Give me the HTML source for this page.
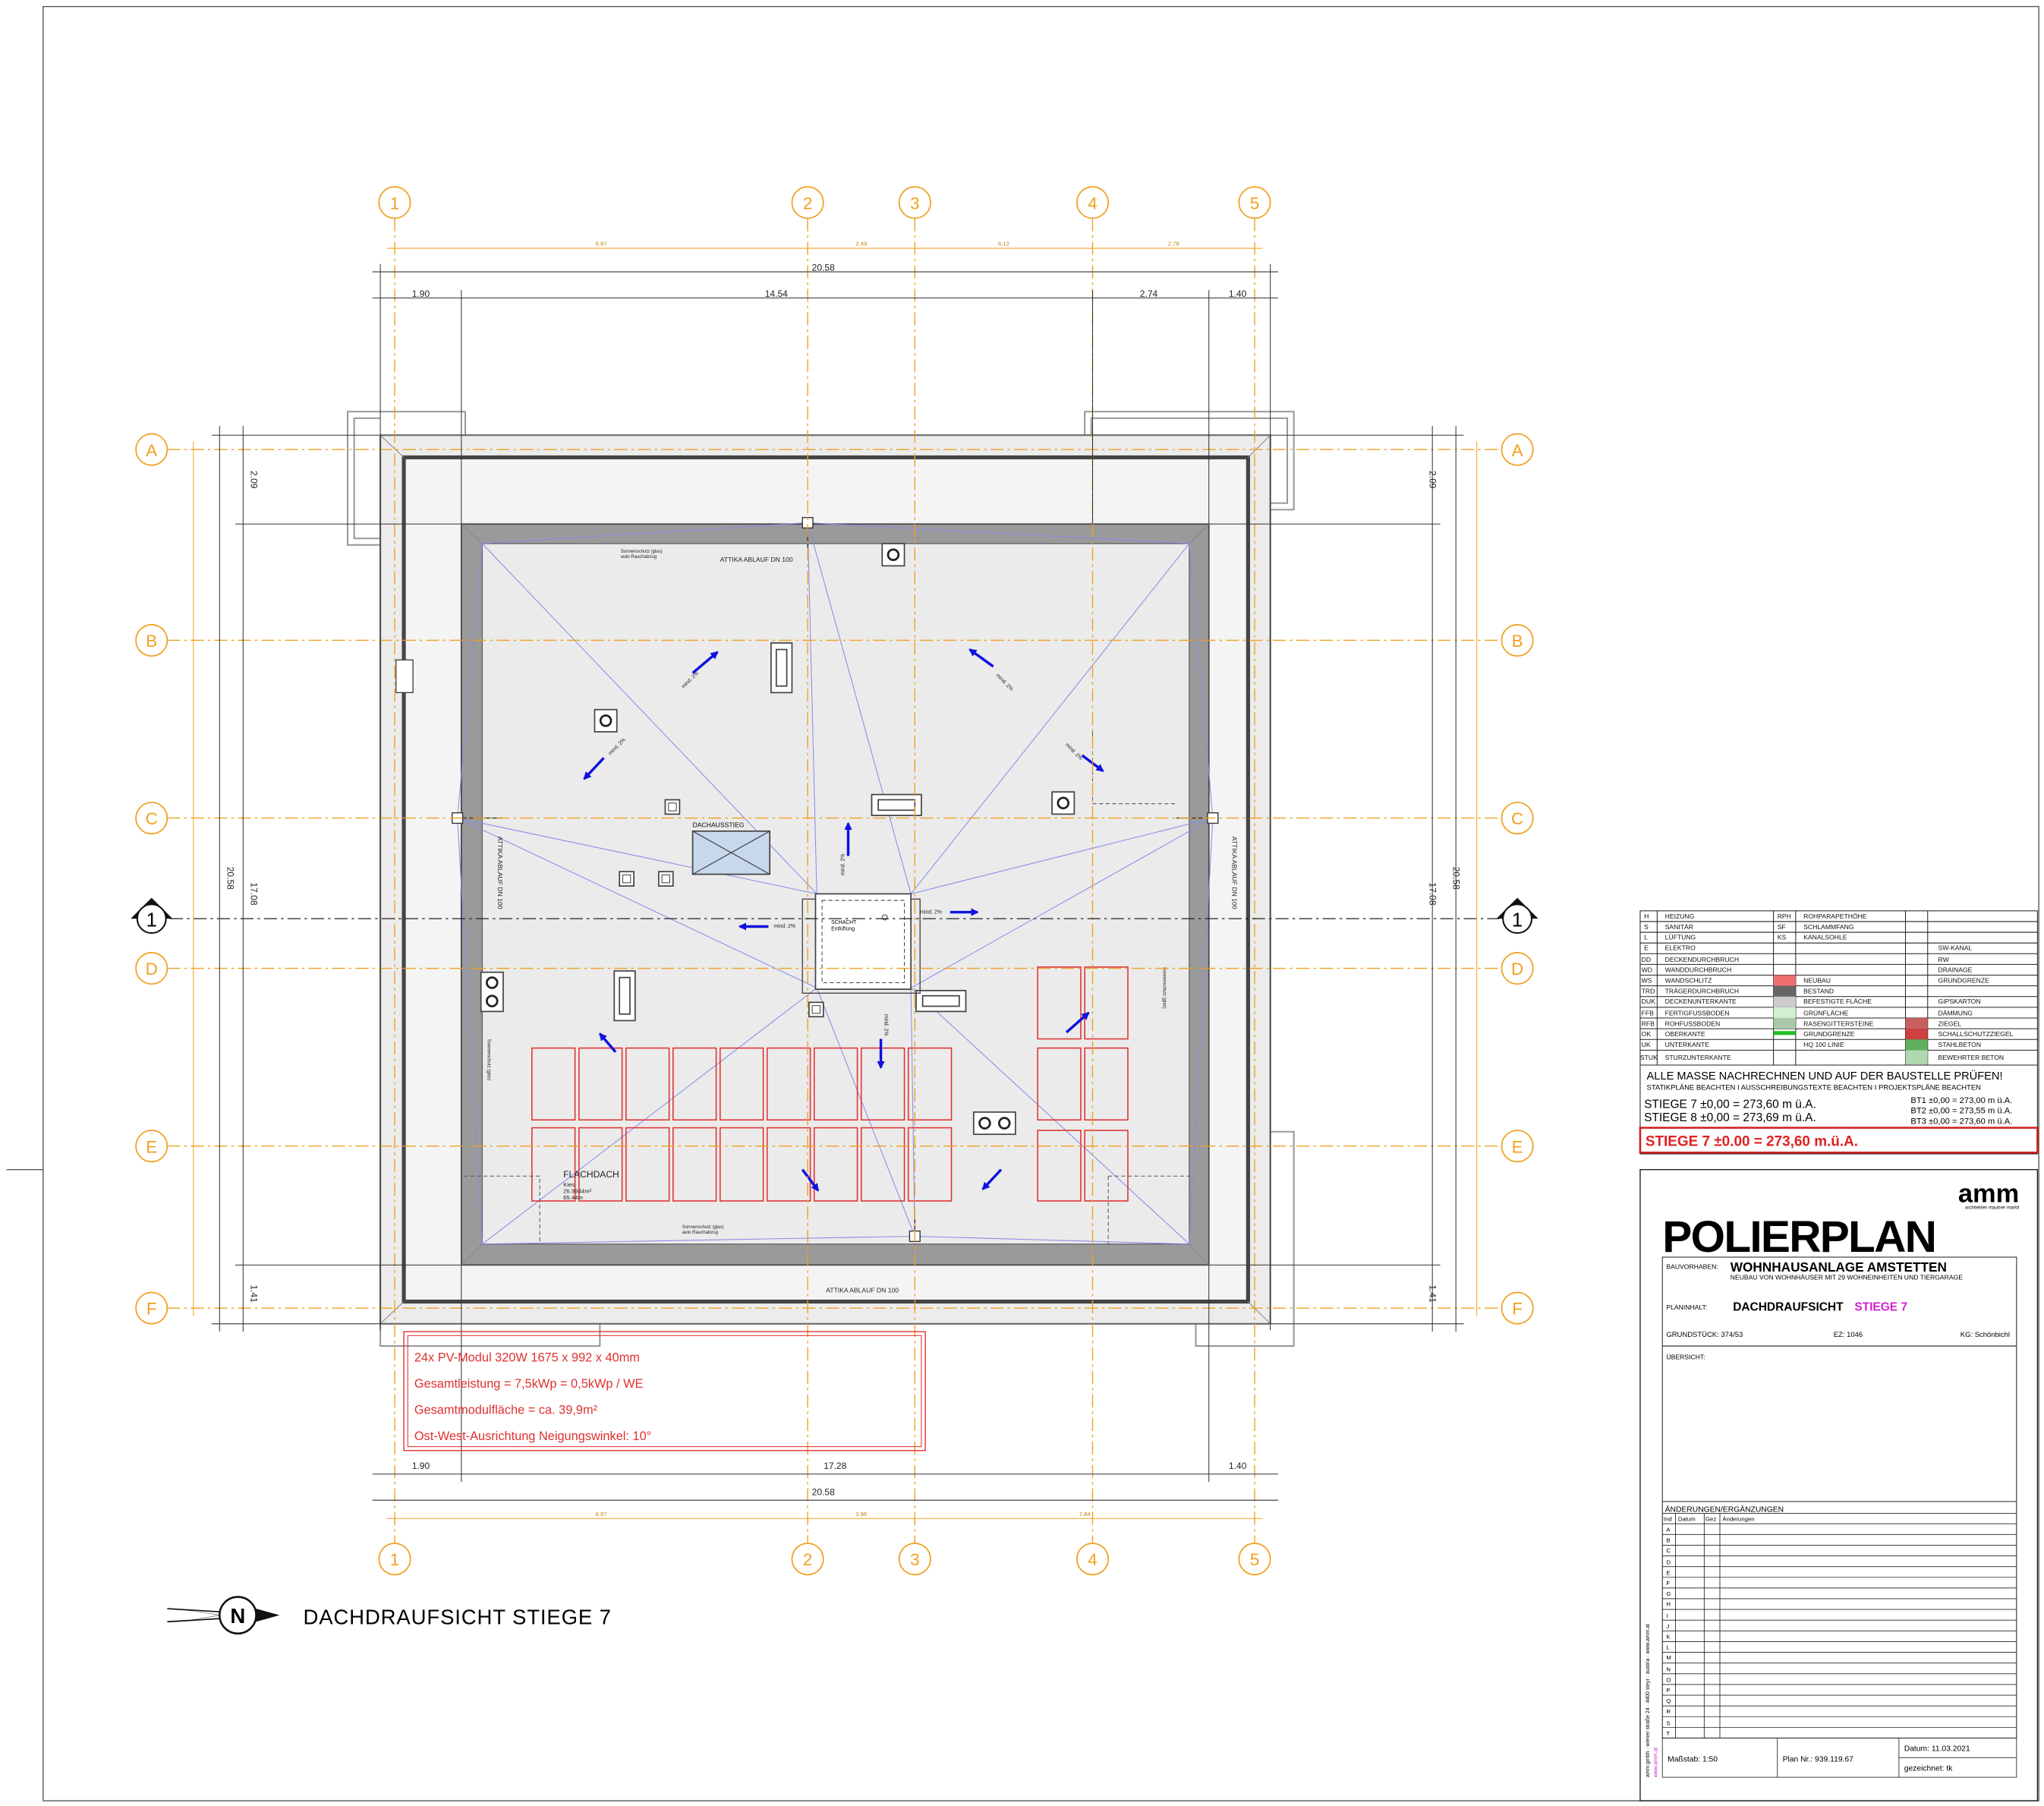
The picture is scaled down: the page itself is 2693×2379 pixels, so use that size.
<!DOCTYPE html>
<html><head><meta charset="utf-8">
<style>
html,body{margin:0;padding:0;background:#fff;}
svg{display:block;}
text{font-family:"Liberation Sans",sans-serif;}
</style></head>
<body>
<svg width="2693" height="2379" viewBox="0 0 1564 1382" preserveAspectRatio="none" xmlns="http://www.w3.org/2000/svg">
<defs>
<marker id="ah" markerWidth="6" markerHeight="6" refX="5" refY="3" orient="auto" markerUnits="userSpaceOnUse"><path d="M0,0 L6,3 L0,6 z" fill="#1010e0"/></marker>
</defs>
<rect width="1564" height="1382" fill="#fff"/>
<!-- outer border -->
<rect x="33" y="5" width="1527" height="1373" fill="none" stroke="#555" stroke-width="0.8"/>
<line x1="5" y1="895" x2="33" y2="895" stroke="#555" stroke-width="0.8"/>

<!-- protrusions -->
<g fill="none" stroke="#999" stroke-width="1.2">
<path d="M291,315 H266 V417 H291"/><path d="M291,320 H271 V412 H291"/>
<path d="M291,315 H356 V333"/>
<path d="M830,333 V315 H990 V390 H972"/><path d="M835,333 V320 H985 V385 H972"/>
<path d="M291,1013 V1030 H459 V1013"/>
<path d="M915,1013 V1030 H990 V866 H972"/>
</g>

<!-- building -->
<rect x="291" y="333" width="681" height="680" fill="#ececec" stroke="#666" stroke-width="1.2"/>
<rect x="309" y="350" width="646" height="646" fill="#f4f4f4" stroke="#444" stroke-width="3"/>
<rect x="353" y="401" width="572" height="567" fill="#9a9a9a" stroke="#444" stroke-width="1"/>
<rect x="369" y="416" width="541" height="536" fill="#ebebeb" stroke="#666" stroke-width="0.8"/>
<g stroke="#888" stroke-width="0.6"><line x1="291" y1="333" x2="309" y2="350"/><line x1="972" y1="333" x2="955" y2="350"/><line x1="291" y1="1013" x2="309" y2="996"/><line x1="972" y1="1013" x2="955" y2="996"/>
<line x1="353" y1="401" x2="369" y2="416"/><line x1="925" y1="401" x2="910" y2="416"/><line x1="353" y1="968" x2="369" y2="952"/><line x1="925" y1="968" x2="910" y2="952"/></g>
<rect x="303" y="505" width="13" height="25" fill="#fff" stroke="#444" stroke-width="0.8"/>

<!-- slope lines -->
<g stroke="#8a8ae8" stroke-width="0.6" fill="none">
<path d="M618,400 L369,416 M618,400 L910,416 M618,400 L625,684 M618,400 L697,684"/>
<path d="M350,626 L369,416 M350,626 L369,952 M350,626 L625,684 M350,626 L625,756"/>
<path d="M928,626 L910,416 M928,626 L910,952 M928,626 L697,684 M928,626 L697,756"/>
<path d="M700,946 L369,952 M700,946 L910,952 M700,946 L625,756 M700,946 L697,756"/>
<path d="M369,416 L625,684 M910,416 L697,684 M369,952 L625,756 M910,952 L697,756"/>
</g>

<!-- PV modules -->
<g fill="none" stroke="#e03030" stroke-width="0.9">
<rect x="407" y="802" width="33" height="55"/><rect x="443" y="802" width="33" height="55"/><rect x="479" y="802" width="33" height="55"/><rect x="515" y="802" width="33" height="55"/><rect x="551" y="802" width="33" height="55"/><rect x="587" y="802" width="33" height="55"/><rect x="623" y="802" width="33" height="55"/><rect x="659" y="802" width="33" height="55"/><rect x="695" y="802" width="33" height="55"/>
<rect x="407" y="863" width="33" height="56"/><rect x="443" y="863" width="33" height="56"/><rect x="479" y="863" width="33" height="56"/><rect x="515" y="863" width="33" height="56"/><rect x="551" y="863" width="33" height="56"/><rect x="587" y="863" width="33" height="56"/><rect x="623" y="863" width="33" height="56"/><rect x="659" y="863" width="33" height="56"/><rect x="695" y="863" width="33" height="56"/>
<rect x="794" y="740" width="33" height="55"/><rect x="830" y="740" width="33" height="55"/>
<rect x="794" y="802" width="33" height="55"/><rect x="830" y="802" width="33" height="55"/>
<rect x="794" y="865" width="33" height="54"/><rect x="830" y="865" width="33" height="54"/>
</g>

<!-- skylights & objects -->
<g fill="#fff" stroke="#444" stroke-width="1">
<rect x="590" y="492" width="16" height="38"/><rect x="594" y="497" width="8" height="28" fill="none"/>
<rect x="667" y="608" width="38" height="16"/><rect x="672" y="612" width="28" height="8" fill="none"/>
<rect x="470" y="743" width="16" height="38"/><rect x="474" y="748" width="8" height="28" fill="none"/>
<rect x="701" y="758" width="38" height="16"/><rect x="706" y="762" width="28" height="8" fill="none"/>
<rect x="675" y="416" width="17" height="17"/><rect x="455" y="543" width="17" height="17"/><rect x="805" y="606" width="17" height="17"/>
<rect x="368" y="744" width="17" height="30"/><rect x="745" y="851" width="32" height="17"/>
<rect x="509" y="612" width="11" height="11"/><rect x="474" y="667" width="11" height="11"/><rect x="504" y="667" width="11" height="11"/><rect x="619" y="767" width="11" height="11"/>
</g>
<g fill="none" stroke="#222" stroke-width="1.6">
<circle cx="683.5" cy="424.5" r="4"/><circle cx="463.5" cy="551.5" r="4"/><circle cx="813.5" cy="614.5" r="4"/><circle cx="376.5" cy="752" r="4"/><circle cx="376.5" cy="766" r="4"/><circle cx="753.5" cy="859.5" r="4"/><circle cx="768.5" cy="859.5" r="4"/>
</g>
<g fill="none" stroke="#444" stroke-width="0.6"><rect x="511.5" y="614.5" width="6" height="6"/><rect x="476.5" y="669.5" width="6" height="6"/><rect x="506.5" y="669.5" width="6" height="6"/><rect x="621.5" y="769.5" width="6" height="6"/></g>
<!-- Dachausstieg -->
<rect x="530" y="636" width="59" height="33" fill="#c8d8ec" stroke="#444" stroke-width="1"/>
<path d="M530,636 L589,669 M589,636 L530,669" stroke="#444" stroke-width="0.7"/>
<text x="530" y="633" font-size="5">DACHAUSSTIEG</text>
<!-- center shaft -->
<rect x="614" y="688" width="90" height="72" fill="none" stroke="#444" stroke-width="0.8"/>
<rect x="624" y="684" width="73" height="73" fill="#fff" stroke="#444" stroke-width="1"/>
<rect x="629" y="689" width="63" height="63" fill="none" stroke="#444" stroke-width="0.6" stroke-dasharray="3,2"/>
<circle cx="677" cy="702" r="2" fill="none" stroke="#444" stroke-width="0.6"/>
<text x="636" y="707" font-size="4">SCHACHT</text><text x="636" y="712" font-size="4">Entlüftung</text>
<!-- dashed lines -->
<g stroke="#555" stroke-width="0.6" stroke-dasharray="3,2" fill="none">
<path d="M836,560 V615 H900"/><path d="M355,900 H413 V952"/><path d="M848,900 H910 M848,900 V952"/>
</g>

<!-- drains -->
<g fill="#fff" stroke="#333" stroke-width="0.8">
<rect x="614" y="396" width="8" height="8"/><rect x="346" y="622" width="8" height="8"/><rect x="924" y="622" width="8" height="8"/><rect x="696" y="942" width="8" height="8"/>
<line x1="618" y1="404" x2="618" y2="420"/><line x1="354" y1="626" x2="385" y2="626"/><line x1="924" y1="626" x2="900" y2="626"/><line x1="700" y1="942" x2="700" y2="925"/>
</g>
<g font-size="5" fill="#222">
<text x="551" y="430">ATTIKA ABLAUF DN 100</text>
<text x="632" y="989">ATTIKA ABLAUF DN 100</text>
<text transform="translate(381,640) rotate(90)">ATTIKA ABLAUF DN 100</text>
<text transform="translate(943,640) rotate(90)">ATTIKA ABLAUF DN 100</text>
<text x="431" y="901" font-size="7">FLACHDACH</text>
<text x="431" y="908" font-size="4.5">Kies</text><text x="431" y="913" font-size="4.5">26.9944m²</text><text x="431" y="918" font-size="4.5">65.44m</text>
<text x="475" y="423" font-size="3.5">Sonnenschutz (glas)</text><text x="475" y="427" font-size="3.5">auto Rauchabzug</text>
<text x="522" y="940" font-size="3.5">Sonnenschutz (glas)</text><text x="522" y="944" font-size="3.5">auto Rauchabzug</text>
<text transform="translate(890,740) rotate(90)" font-size="3.5">Sonnenschutz (glas)</text>
<text transform="translate(373,795) rotate(90)" font-size="3.5">Sonnenschutz (glas)</text>
</g>

<!-- arrows -->
<g stroke="#1010e0" stroke-width="2" marker-end="url(#ah)">
<line x1="530" y1="515" x2="549" y2="499"/><line x1="462" y1="580" x2="447" y2="596"/>
<line x1="760" y1="510" x2="742" y2="497"/><line x1="828" y1="578" x2="844" y2="590"/>
<line x1="649" y1="655" x2="649" y2="630"/><line x1="588" y1="709" x2="566" y2="709"/>
<line x1="727" y1="698" x2="748" y2="698"/><line x1="674" y1="795" x2="674" y2="817"/>
<line x1="471" y1="805" x2="459" y2="791"/><line x1="816" y1="790" x2="833" y2="775"/>
<line x1="614" y1="895" x2="626" y2="911"/><line x1="766" y1="895" x2="752" y2="910"/>
</g>
<g font-size="4" fill="#222"><text x="592" y="710">mind. 2%</text><text x="704" y="699">mind. 2%</text>
<text transform="translate(523,527) rotate(-45)">mind. 2%</text><text transform="translate(467,578) rotate(-45)">mind. 2%</text>
<text transform="translate(762,517) rotate(45)">mind. 2%</text><text transform="translate(815,570) rotate(45)">mind. 2%</text>
<text transform="translate(646,670) rotate(-90)">mind. 2%</text><text transform="translate(677,776) rotate(90)">mind. 2%</text></g>

<!-- grid axes -->
<g stroke="#f0a020" stroke-width="0.8" stroke-dasharray="10,3,2,3">
<line x1="302" y1="167" x2="302" y2="1181"/><line x1="618" y1="167" x2="618" y2="1181"/><line x1="700" y1="167" x2="700" y2="1181"/><line x1="836" y1="167" x2="836" y2="1181"/><line x1="960" y1="167" x2="960" y2="1181"/>
<line x1="128" y1="344" x2="1149" y2="344"/><line x1="128" y1="490" x2="1149" y2="490"/><line x1="128" y1="626" x2="1149" y2="626"/><line x1="128" y1="741" x2="1149" y2="741"/><line x1="128" y1="877" x2="1149" y2="877"/><line x1="128" y1="1001" x2="1149" y2="1001"/>
</g>
<line x1="130" y1="703" x2="1147" y2="703" stroke="#222" stroke-width="0.7" stroke-dasharray="10,3,2,3"/>
<g fill="#fff" stroke="#f0a020" stroke-width="1">
<circle cx="302" cy="155" r="12"/><circle cx="618" cy="155" r="12"/><circle cx="700" cy="155" r="12"/><circle cx="836" cy="155" r="12"/><circle cx="960" cy="155" r="12"/>
<circle cx="302" cy="1193" r="12"/><circle cx="618" cy="1193" r="12"/><circle cx="700" cy="1193" r="12"/><circle cx="836" cy="1193" r="12"/><circle cx="960" cy="1193" r="12"/>
<circle cx="116" cy="344" r="12"/><circle cx="116" cy="490" r="12"/><circle cx="116" cy="626" r="12"/><circle cx="116" cy="741" r="12"/><circle cx="116" cy="877" r="12"/><circle cx="116" cy="1001" r="12"/>
<circle cx="1161" cy="344" r="12"/><circle cx="1161" cy="490" r="12"/><circle cx="1161" cy="626" r="12"/><circle cx="1161" cy="741" r="12"/><circle cx="1161" cy="877" r="12"/><circle cx="1161" cy="1001" r="12"/>
</g>
<g font-size="13" fill="#f0a020" text-anchor="middle">
<text x="302" y="160">1</text><text x="618" y="160">2</text><text x="700" y="160">3</text><text x="836" y="160">4</text><text x="960" y="160">5</text>
<text x="302" y="1198">1</text><text x="618" y="1198">2</text><text x="700" y="1198">3</text><text x="836" y="1198">4</text><text x="960" y="1198">5</text>
<text x="116" y="349">A</text><text x="116" y="495">B</text><text x="116" y="631">C</text><text x="116" y="746">D</text><text x="116" y="882">E</text><text x="116" y="1006">F</text>
<text x="1161" y="349">A</text><text x="1161" y="495">B</text><text x="1161" y="631">C</text><text x="1161" y="746">D</text><text x="1161" y="882">E</text><text x="1161" y="1006">F</text>
</g>
<!-- section markers -->
<g><path d="M100,703 L116,687 L132,703 Z" fill="#111"/><circle cx="116" cy="703" r="11" fill="#fff" stroke="#111" stroke-width="1.2"/><text x="116" y="709" font-size="15" text-anchor="middle">1</text>
<path d="M1145,703 L1161,687 L1177,703 Z" fill="#111"/><circle cx="1161" cy="703" r="11" fill="#fff" stroke="#111" stroke-width="1.2"/><text x="1161" y="709" font-size="15" text-anchor="middle">1</text></g>

<!-- dimension lines -->
<g stroke="#f0a020" stroke-width="0.6"><line x1="296" y1="190" x2="966" y2="190"/><line x1="296" y1="1162" x2="966" y2="1162"/><line x1="148" y1="338" x2="148" y2="1007"/><line x1="1130" y1="338" x2="1130" y2="1007"/></g>
<g stroke="#333" stroke-width="0.6">
<line x1="285" y1="208" x2="978" y2="208"/><line x1="285" y1="228" x2="978" y2="228"/>
<line x1="285" y1="1128" x2="978" y2="1128"/><line x1="285" y1="1148" x2="978" y2="1148"/>
<line x1="168" y1="326" x2="168" y2="1019"/><line x1="186" y1="326" x2="186" y2="1019"/>
<line x1="1096" y1="326" x2="1096" y2="1019"/><line x1="1114" y1="326" x2="1114" y2="1019"/>
<line x1="291" y1="202" x2="291" y2="1018"/><line x1="972" y1="202" x2="972" y2="1018"/>
<line x1="353" y1="222" x2="353" y2="401"/><line x1="925" y1="222" x2="925" y2="401"/><line x1="836" y1="222" x2="836" y2="401"/>
<line x1="353" y1="968" x2="353" y2="1134"/><line x1="925" y1="968" x2="925" y2="1134"/>
<line x1="162" y1="333" x2="291" y2="333"/><line x1="162" y1="1013" x2="291" y2="1013"/><line x1="180" y1="401" x2="353" y2="401"/><line x1="180" y1="968" x2="353" y2="968"/>
<line x1="972" y1="333" x2="1120" y2="333"/><line x1="972" y1="1013" x2="1120" y2="1013"/><line x1="925" y1="401" x2="1102" y2="401"/><line x1="925" y1="968" x2="1102" y2="968"/>
</g>
<g font-size="7" fill="#222" text-anchor="middle">
<text x="630" y="207">20.58</text><text x="322" y="227">1.90</text><text x="594" y="227">14.54</text><text x="879" y="227">2.74</text><text x="947" y="227">1.40</text>
<text x="322" y="1124">1.90</text><text x="639" y="1124">17.28</text><text x="947" y="1124">1.40</text><text x="630" y="1144">20.58</text>
<text transform="translate(174,672) rotate(90)">20.58</text><text transform="translate(192,684) rotate(90)">17.08</text>
<text transform="translate(1112,672) rotate(90)">20.58</text><text transform="translate(1094,684) rotate(90)">17.08</text>
<text transform="translate(192,367) rotate(90)">2.09</text><text transform="translate(1094,367) rotate(90)">2.09</text>
<text transform="translate(192,990) rotate(90)">1.41</text><text transform="translate(1094,990) rotate(90)">1.41</text>
</g>
<g font-size="4.5" fill="#c08010" text-anchor="middle"><text x="460" y="188">6.97</text><text x="659" y="188">2.49</text><text x="768" y="188">6.12</text><text x="898" y="188">2.78</text>
<text x="460" y="1160">6.97</text><text x="659" y="1160">3.96</text><text x="830" y="1160">7.84</text></g>

<!-- PV text box -->
<rect x="309" y="1019" width="399" height="91" fill="none" stroke="#e03030" stroke-width="0.8"/>
<rect x="312" y="1022" width="393" height="85" fill="none" stroke="#e03030" stroke-width="0.6"/>
<g font-size="9.5" fill="#e03030">
<text x="317" y="1042">24x PV-Modul 320W 1675 x 992 x 40mm</text>
<text x="317" y="1062">Gesamtleistung = 7,5kWp = 0,5kWp / WE</text>
<text x="317" y="1082">Gesamtmodulfläche = ca. 39,9m²</text>
<text x="317" y="1102">Ost-West-Ausrichtung Neigungswinkel: 10°</text>
</g>

<!-- north arrow & title -->
<path d="M128,1230 L170,1236 L130,1242 L168,1236 Z" fill="#111"/>
<path d="M128,1231 L212,1236 L128,1241" fill="none" stroke="#111" stroke-width="1"/>
<circle cx="182" cy="1236" r="14" fill="#fff" stroke="#111" stroke-width="1.5"/>
<text x="182" y="1242" font-size="16" font-weight="bold" text-anchor="middle">N</text>
<path d="M196,1231 L214,1236 L196,1241 Z" fill="#111"/>
<text x="232" y="1243" font-size="16" letter-spacing="0.5">DACHDRAUFSICHT STIEGE 7</text>

<!-- legend -->
<g stroke="#222" stroke-width="0.6" fill="none">
<rect x="1255" y="697" width="304" height="186"/>
<line x1="1255" y1="705.2" x2="1559" y2="705.2"/><line x1="1255" y1="713.4" x2="1559" y2="713.4"/><line x1="1255" y1="721.6" x2="1559" y2="721.6"/><line x1="1255" y1="729.8" x2="1559" y2="729.8"/><line x1="1255" y1="738" x2="1559" y2="738"/><line x1="1255" y1="746.2" x2="1559" y2="746.2"/><line x1="1255" y1="754.4" x2="1559" y2="754.4"/><line x1="1255" y1="762.6" x2="1559" y2="762.6"/><line x1="1255" y1="770.8" x2="1559" y2="770.8"/><line x1="1255" y1="779" x2="1559" y2="779"/><line x1="1255" y1="787.2" x2="1559" y2="787.2"/><line x1="1255" y1="795.4" x2="1559" y2="795.4"/><line x1="1255" y1="803.6" x2="1559" y2="803.6"/><line x1="1255" y1="815" x2="1559" y2="815"/>
<line x1="1268" y1="697" x2="1268" y2="815"/><line x1="1357" y1="697" x2="1357" y2="815"/><line x1="1374" y1="697" x2="1374" y2="815"/><line x1="1458" y1="697" x2="1458" y2="815"/><line x1="1475" y1="697" x2="1475" y2="815"/>
</g>
<g fill="#999"><rect x="1357" y="746.2" width="17" height="8.2" fill="#f07070"/><rect x="1357" y="754.4" width="17" height="8.2" fill="#666"/><rect x="1357" y="762.6" width="17" height="8.2" fill="#ccc"/><rect x="1357" y="770.8" width="17" height="8.2" fill="#d0f0d0"/><rect x="1357" y="779" width="17" height="8.2" fill="#aac8aa"/><rect x="1357" y="789" width="17" height="3" fill="#20c020"/>
<rect x="1458" y="779" width="17" height="8.2" fill="#c86060"/><rect x="1458" y="787.2" width="17" height="8.2" fill="#d04040"/><rect x="1458" y="795.4" width="17" height="8.2" fill="#60b060"/><rect x="1458" y="803.6" width="17" height="11" fill="#b0d8b0"/></g>
<g font-size="5" fill="#111">
<text x="1258" y="703">H</text><text x="1274" y="703">HEIZUNG</text><text x="1360" y="703">RPH</text><text x="1380" y="703">ROHPARAPETHÖHE</text>
<text x="1258" y="711">S</text><text x="1274" y="711">SANITÄR</text><text x="1360" y="711">SF</text><text x="1380" y="711">SCHLAMMFANG</text>
<text x="1258" y="719">L</text><text x="1274" y="719">LÜFTUNG</text><text x="1360" y="719">KS</text><text x="1380" y="719">KANALSOHLE</text>
<text x="1258" y="727">E</text><text x="1274" y="727">ELEKTRO</text><text x="1483" y="727">SW-KANAL</text>
<text x="1256" y="736">DD</text><text x="1274" y="736">DECKENDURCHBRUCH</text><text x="1483" y="736">RW</text>
<text x="1256" y="744">WD</text><text x="1274" y="744">WANDDURCHBRUCH</text><text x="1483" y="744">DRAINAGE</text>
<text x="1256" y="752">WS</text><text x="1274" y="752">WANDSCHLITZ</text><text x="1380" y="752">NEUBAU</text><text x="1483" y="752">GRUNDGRENZE</text>
<text x="1256" y="760">TRD</text><text x="1274" y="760">TRÄGERDURCHBRUCH</text><text x="1380" y="760">BESTAND</text>
<text x="1256" y="768">DUK</text><text x="1274" y="768">DECKENUNTERKANTE</text><text x="1380" y="768">BEFESTIGTE FLÄCHE</text><text x="1483" y="768">GIPSKARTON</text>
<text x="1256" y="777">FFB</text><text x="1274" y="777">FERTIGFUSSBODEN</text><text x="1380" y="777">GRÜNFLÄCHE</text><text x="1483" y="777">DÄMMUNG</text>
<text x="1256" y="785">RFB</text><text x="1274" y="785">ROHFUSSBODEN</text><text x="1380" y="785">RASENGITTERSTEINE</text><text x="1483" y="785">ZIEGEL</text>
<text x="1256" y="793">OK</text><text x="1274" y="793">OBERKANTE</text><text x="1380" y="793">GRUNDGRENZE</text><text x="1483" y="793">SCHALLSCHUTZZIEGEL</text>
<text x="1256" y="801">UK</text><text x="1274" y="801">UNTERKANTE</text><text x="1380" y="801">HQ 100 LINIE</text><text x="1483" y="801">STAHLBETON</text>
<text x="1255" y="811">STUK</text><text x="1274" y="811">STURZUNTERKANTE</text><text x="1483" y="811">BEWEHRTER BETON</text>
</g>
<text x="1260" y="826" font-size="8.5">ALLE MASSE NACHRECHNEN UND AUF DER BAUSTELLE PRÜFEN!</text>
<text x="1260" y="834" font-size="5.5">STATIKPLÄNE BEACHTEN I AUSSCHREIBUNGSTEXTE BEACHTEN I PROJEKTSPLÄNE BEACHTEN</text>
<text x="1258" y="848" font-size="9">STIEGE 7 ±0,00 = 273,60 m ü.A.</text>
<text x="1258" y="858" font-size="9">STIEGE 8 ±0,00 = 273,69 m ü.A.</text>
<g font-size="6.5"><text x="1462" y="844">BT1 ±0,00 = 273,00 m ü.A.</text><text x="1462" y="852">BT2 ±0,00 = 273,55 m ü.A.</text><text x="1462" y="860">BT3 ±0,00 = 273,60 m ü.A.</text></g>
<rect x="1255" y="863" width="304" height="19" fill="none" stroke="#d02020" stroke-width="1.5"/>
<text x="1259" y="877" font-size="11" font-weight="bold" fill="#e02020">STIEGE 7  ±0.00 = 273,60 m.ü.A.</text>

<!-- title block -->
<rect x="1255" y="895" width="304" height="483" fill="none" stroke="#222" stroke-width="0.8"/>
<text x="1545" y="920" font-size="20" font-weight="bold" text-anchor="end">amm</text>
<text x="1545" y="925" font-size="3.5" text-anchor="end">architekten mautner marktl</text>
<text x="1272" y="958" font-size="34" font-weight="bold" letter-spacing="-1">POLIERPLAN</text>
<rect x="1272" y="962" width="271" height="368" fill="none" stroke="#222" stroke-width="0.6"/>
<line x1="1272" y1="1030" x2="1543" y2="1030" stroke="#222" stroke-width="0.6"/>
<text x="1275" y="971" font-size="5">BAUVORHABEN:</text>
<text x="1324" y="973" font-size="10" font-weight="bold">WOHNHAUSANLAGE AMSTETTEN</text>
<text x="1324" y="979" font-size="5">NEUBAU VON WOHNHÄUSER MIT 29 WOHNEINHEITEN UND TIERGARAGE</text>
<text x="1275" y="1002" font-size="5">PLANINHALT:</text>
<text x="1326" y="1003" font-size="9" font-weight="bold">DACHDRAUFSICHT</text>
<text x="1419" y="1003" font-size="9" font-weight="bold" fill="#d020d0">STIEGE 7</text>
<text x="1275" y="1023" font-size="5.5">GRUNDSTÜCK: 374/53</text><text x="1403" y="1023" font-size="5.5">EZ: 1046</text><text x="1500" y="1023" font-size="5.5">KG: Schönbichl</text>
<text x="1275" y="1040" font-size="5">ÜBERSICHT:</text>
<line x1="1272" y1="1149" x2="1543" y2="1149" stroke="#222" stroke-width="0.6"/>
<text x="1274" y="1157" font-size="6">ÄNDERUNGEN/ERGÄNZUNGEN</text>
<g stroke="#222" stroke-width="0.5" fill="none">
<line x1="1272" y1="1158" x2="1543" y2="1158"/><line x1="1272" y1="1166" x2="1543" y2="1166"/>
<path d="M1272,1174.2H1543M1272,1182.4H1543M1272,1190.6H1543M1272,1198.8H1543M1272,1207H1543M1272,1215.2H1543M1272,1223.4H1543M1272,1231.6H1543M1272,1239.8H1543M1272,1248H1543M1272,1256.2H1543M1272,1264.4H1543M1272,1272.6H1543M1272,1280.8H1543M1272,1289H1543M1272,1297.2H1543M1272,1305.4H1543M1272,1313.6H1543M1272,1321.8H1543"/>
<line x1="1282" y1="1158" x2="1282" y2="1330"/><line x1="1304" y1="1158" x2="1304" y2="1330"/><line x1="1316" y1="1158" x2="1316" y2="1330"/>
<line x1="1360" y1="1330" x2="1360" y2="1360"/><line x1="1453" y1="1330" x2="1453" y2="1360"/><line x1="1453" y1="1345" x2="1543" y2="1345"/>
<rect x="1272" y="1330" width="271" height="30"/>
</g>
<g font-size="4.5"><text x="1273" y="1164">Ind</text><text x="1284" y="1164">Datum</text><text x="1305" y="1164">Gez</text><text x="1318" y="1164">Änderungen</text>
<text x="1275" y="1172">A</text><text x="1275" y="1180">B</text><text x="1275" y="1188">C</text><text x="1275" y="1197">D</text><text x="1275" y="1205">E</text><text x="1275" y="1213">F</text><text x="1275" y="1221">G</text><text x="1275" y="1229">H</text><text x="1275" y="1238">I</text><text x="1275" y="1246">J</text><text x="1275" y="1254">K</text><text x="1275" y="1262">L</text><text x="1275" y="1270">M</text><text x="1275" y="1279">N</text><text x="1275" y="1287">O</text><text x="1275" y="1295">P</text><text x="1275" y="1303">Q</text><text x="1275" y="1311">R</text><text x="1275" y="1320">S</text><text x="1275" y="1328">T</text></g>
<g font-size="6"><text x="1276" y="1348">Maßstab:  1:50</text><text x="1364" y="1348">Plan Nr.: 939.119.67</text><text x="1457" y="1340">Datum:   11.03.2021</text><text x="1457" y="1355">gezeichnet: tk</text></g>
<text transform="translate(1262,1360) rotate(-90)" font-size="4">amm gmbh · wiener straße 24 · 4400 steyr · austria · www.amm.at</text>
<text transform="translate(1268,1360) rotate(-90)" font-size="4" fill="#d020d0">www.amm.at</text>
</svg>
</body></html>
